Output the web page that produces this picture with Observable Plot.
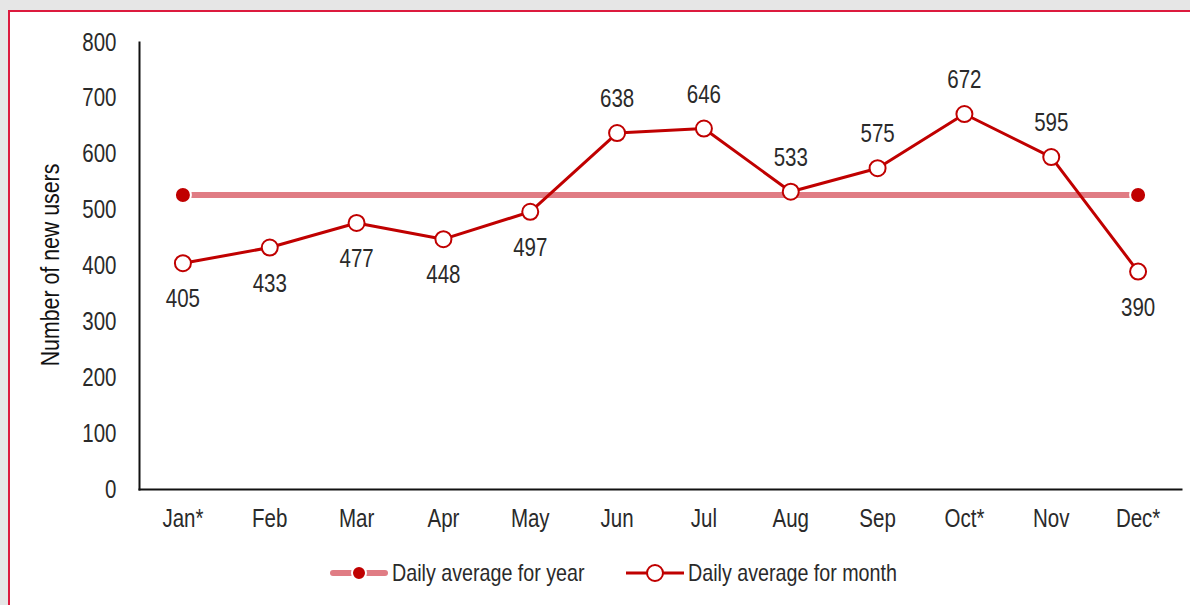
<!DOCTYPE html>
<html>
<head>
<meta charset="utf-8">
<script src="https://cdn.jsdelivr.net/npm/d3@7"></script>
<script src="https://cdn.jsdelivr.net/npm/@observablehq/plot@0.6"></script>
<style>
  html, body { margin: 0; padding: 0; background: #e6e6e6; width: 1190px; height: 605px; overflow: hidden; }
  #frame { position: absolute; left: 8px; top: 10px; width: 1200px; height: 620px; background: #fff;
           border-left: 2px solid #dc1a3e; border-top: 2px solid #dc1a3e; box-sizing: border-box; }
  #chart { position: absolute; left: 0; top: 0; }
  #legend { position: absolute; left: 0; top: 556px; width: 1190px; height: 34px;
            font-family: "Liberation Sans", Arial, sans-serif;
            font-size: 24px; color: #2a2a2a; }
  .item { position: absolute; top: 0; height: 34px; display: flex; align-items: center; }
  .item svg { display: block; margin-right: 4px; }
  .item span { display: inline-block; transform: scaleX(0.82); transform-origin: left center; white-space: nowrap; }
</style>
</head>
<body>
<div id="frame"></div>
<div id="chart"></div>
<div id="legend"></div>
<script>
const months = ["Jan*", "Feb", "Mar", "Apr", "May", "Jun", "Jul", "Aug", "Sep", "Oct*", "Nov", "Dec*"];
const monthlyAverage = [405, 433, 477, 448, 497, 638, 646, 533, 575, 672, 595, 390];
const labelPlacement = ["below", "below", "below", "below", "below", "above", "above", "above", "above", "above", "above", "below"];
const yearAverage = 527;
const yTicks = [0, 100, 200, 300, 400, 500, 600, 700, 800];
const seriesNames = ["Daily average for year", "Daily average for month"];
const yTitle = "Number of new users";

const monthData = months.map((m, i) => ({month: m, value: monthlyAverage[i], pos: labelPlacement[i]}));
const yearData = [months[0], months[months.length - 1]].map(m => ({month: m, value: yearAverage}));

const font = '"Liberation Sans", Arial, sans-serif';
const darkRed = "#c00000";
const lightRed = "#e07c84";
const textColor = "#2a2a2a";
const narrow = 0.82;

const chart = Plot.plot({
  width: 1190,
  height: 545,
  marginLeft: 139,
  marginRight: 9,
  marginTop: 42,
  marginBottom: 56,
  style: {fontFamily: font, fontSize: "25px", color: textColor, background: "transparent"},
  x: {type: "point", domain: months, padding: 0.5, round: false, label: null},
  y: {domain: [0, 800], ticks: yTicks, label: null},
  marks: [
    Plot.axisY({ticks: yTicks, tickSize: 0, tickPadding: 23, fontSize: 25, label: null}),
    Plot.axisX({tickSize: 0, tickPadding: 20, fontSize: 25, label: null}),
    Plot.frame({anchor: "left", stroke: "#111", strokeWidth: 2}),
    Plot.frame({anchor: "bottom", stroke: "#111", strokeWidth: 2}),
    Plot.text([yTitle], {frameAnchor: "left", textAnchor: "middle", rotate: -90, dx: -89, dy: -1, fontSize: 26, fill: "#111"}),
    Plot.line(yearData, {x: "month", y: "value", stroke: lightRed, strokeWidth: 6}),
    Plot.line(monthData, {x: "month", y: "value", stroke: darkRed, strokeWidth: 3}),
    Plot.dot(yearData, {x: "month", y: "value", r: 8, fill: darkRed, stroke: "white", strokeWidth: 2}),
    Plot.dot(monthData, {x: "month", y: "value", r: 8, fill: "white", stroke: darkRed, strokeWidth: 2}),
    Plot.text(monthData.filter(d => d.pos === "below"), {x: "month", y: "value", text: d => String(d.value), dy: 36, fontSize: 25, fill: textColor, lineAnchor: "middle"}),
    Plot.text(monthData.filter(d => d.pos === "above"), {x: "month", y: "value", text: d => String(d.value), dy: -34, fontSize: 25, fill: textColor, lineAnchor: "middle"})
  ]
});
document.getElementById("chart").appendChild(chart);

// Condense text horizontally (narrow face look) without moving anchors
chart.querySelectorAll("text").forEach(t => {
  if (t.querySelector("tspan")) return;
  const len = t.getComputedTextLength();
  if (len > 0) {
    t.setAttribute("textLength", (len * narrow).toFixed(2));
    t.setAttribute("lengthAdjust", "spacingAndGlyphs");
  }
});

// Legend
const legend = document.getElementById("legend");
const items = [
  {name: seriesNames[0], left: 330, swatch: `<svg width="58" height="20"><line x1="3" y1="10" x2="55" y2="10" stroke="${lightRed}" stroke-width="6" stroke-linecap="round"/><circle cx="29" cy="10" r="7" fill="${darkRed}" stroke="white" stroke-width="2"/></svg>`},
  {name: seriesNames[1], left: 626, swatch: `<svg width="58" height="20"><line x1="0" y1="10" x2="58" y2="10" stroke="${darkRed}" stroke-width="3"/><circle cx="29" cy="10" r="8" fill="white" stroke="${darkRed}" stroke-width="2"/></svg>`}
];
items.forEach(it => {
  const div = document.createElement("div");
  div.className = "item";
  div.style.left = it.left + "px";
  div.innerHTML = it.swatch + `<span>${it.name}</span>`;
  legend.appendChild(div);
});
</script>
</body>
</html>
